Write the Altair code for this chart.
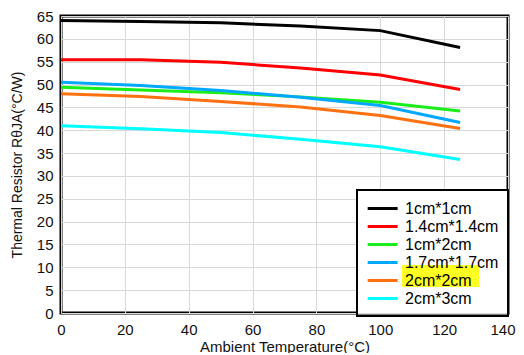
import altair as alt
import pandas as pd

temps = [0, 25, 50, 75, 100, 125]
names = ["1cm*1cm", "1.4cm*1.4cm", "1cm*2cm", "1.7cm*1.7cm", "2cm*2cm", "2cm*3cm"]
colors = ["#000000", "#ff0000", "#1aee1a", "#00a8ff", "#ff7010", "#00ffff"]

r_1x1 = [64.0, 63.8, 63.5, 62.8, 61.8, 58.1]
r_14x14 = [55.4, 55.4, 54.9, 53.6, 52.1, 48.9]
r_1x2 = [49.4, 48.8, 48.2, 47.3, 46.1, 44.2]
r_17x17 = [50.5, 49.8, 48.7, 47.2, 45.4, 41.7]
r_2x2 = [48.0, 47.4, 46.3, 45.1, 43.2, 40.4]
r_2x3 = [41.0, 40.3, 39.5, 38.0, 36.4, 33.6]
series = [r_1x1, r_14x14, r_1x2, r_17x17, r_2x2, r_2x3]

x_ticks = [0, 20, 40, 60, 80, 100, 120, 140]
y_ticks = [0, 5, 10, 15, 20, 25, 30, 35, 40, 45, 50, 55, 60, 65]

rows = []
for name, vals in zip(names, series):
    for t, v in zip(temps, vals):
        rows.append({"size": name, "temp": t, "r": v})
df = pd.DataFrame(rows)

FONT = "Liberation Sans"

lines = alt.Chart(df).mark_line(strokeWidth=3).encode(
    x=alt.X("temp:Q", scale=alt.Scale(domain=[0, 140], nice=False),
            axis=alt.Axis(values=x_ticks, title="Ambient Temperature(°C)",
                          ticks=False, domain=False, labelPadding=9,
                          titlePadding=2, titleFontSize=15, labelFlush=False,
                          labelAlign={"condition": {"test": "datum.value == 140", "value": "right"},
                                      "value": "center"},
                          labelOffset={"condition": {"test": "datum.value == 140", "value": 7},
                                       "value": 0})),
    y=alt.Y("r:Q", scale=alt.Scale(domain=[0, 65], nice=False),
            axis=alt.Axis(values=y_ticks, title="Thermal Resistor RθJA(°C/W)",
                          ticks=False, domain=False, labelPadding=8,
                          titlePadding=12, labelFlush=False)),
    color=alt.Color("size:N", sort=names,
                    scale=alt.Scale(domain=names, range=colors),
                    legend=alt.Legend(title=None, orient="none", legendX=296, legendY=174,
                                      symbolType="M-1,0H2.82", symbolSize=246,
                                      symbolStrokeWidth=3, labelFontSize=16,
                                      labelFont=FONT, labelOffset=20,
                                      padding=9, rowPadding=0,
                                      strokeColor="black")),
)

bg = alt.Chart(df).mark_rect(color="white").encode(
    x=alt.value(296), x2=alt.value(447), y=alt.value(174), y2=alt.value(297))
hl = alt.Chart(df).mark_rect(color="#ffff22").encode(
    x=alt.value(341), x2=alt.value(418), y=alt.value(249), y2=alt.value(271))

chart = alt.layer(lines, bg, hl).properties(
    width=447, height=297,
    autosize=alt.AutoSizeParams(type="none"),
    padding={"left": 53, "top": 8, "right": 8, "bottom": 40},
).configure_view(stroke="black", strokeWidth=3).configure_axis(
    gridColor="#d8d8d8", gridWidth=1, labelFont=FONT, titleFont=FONT,
    labelFontSize=15, titleFontSize=14, titleFontWeight="normal",
    labelColor="#111111", titleColor="#111111"
).configure_legend(strokeWidth=2)

chart.save("out.html", embed_options={"renderer": "svg", "actions": False})
